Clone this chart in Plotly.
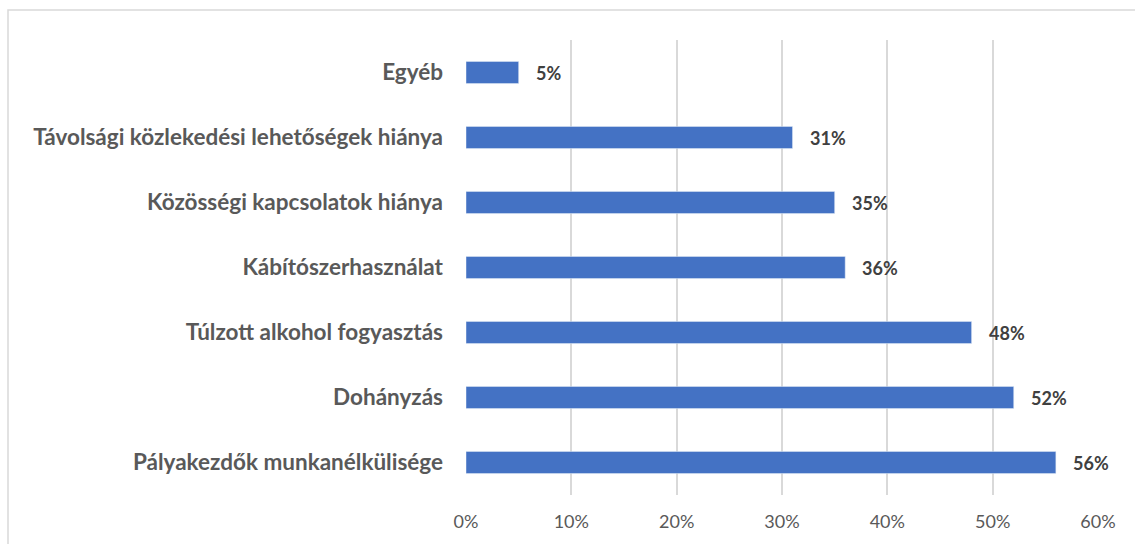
import plotly.graph_objects as go

categories = ["Pályakezdők munkanélkülisége", "Dohányzás", "Túlzott alkohol fogyasztás",
              "Kábítószerhasználat", "Közösségi kapcsolatok hiánya",
              "Távolsági közlekedési lehetőségek hiánya", "Egyéb"]
values = [0.56, 0.52, 0.48, 0.36, 0.35, 0.31, 0.05]
tick_vals = [0, 0.1, 0.2, 0.3, 0.4, 0.5, 0.6]
tick_text = ["0%", "10%", "20%", "30%", "40%", "50%", "60%"]
labels = [f"{round(v*100)}%" for v in values]

FONT = "Lato"
fig = go.Figure()
fig.add_trace(go.Bar(
    y=categories, x=values, orientation="h",
    marker=dict(color="#4472C4"),
    width=0.34, hoverinfo="skip",
))
for c, v, t in zip(categories, values, labels):
    fig.add_annotation(x=v, y=c, text=f"<b>{t}</b>", showarrow=False,
                       xanchor="left", xshift=15,
                       font=dict(family=FONT, size=18, color="#404040"))

L, R, T, B = 466, 37, 40, 49
W, H = 1135, 544
pw, ph = W - L - R, H - T - B
fig.add_shape(type="rect", xref="paper", yref="paper",
              x0=(8 - L) / pw, x1=(W + 5 - L) / pw,
              y0=-(H + 5 - (H - B)) / ph, y1=1 + (T - 10) / ph,
              line=dict(color="#d9d9d9", width=1.5), layer="below")

fig.update_layout(
    width=W, height=H,
    margin=dict(l=L, r=R, t=T, b=B),
    plot_bgcolor="white", paper_bgcolor="white",
    showlegend=False,
    xaxis=dict(range=[0, 0.6], tickvals=tick_vals, ticktext=tick_text,
               showgrid=True, gridcolor="#d9d9d9", gridwidth=1.5,
               zeroline=False, showline=False, ticklabelstandoff=14,
               tickfont=dict(family=FONT, size=18, color="#595959")),
    yaxis=dict(categoryorder="array", categoryarray=categories,
               showgrid=False, zeroline=False, showline=False,
               ticks="", ticklabelstandoff=22,
               tickfont=dict(family=FONT, size=22.5, color="#595959", weight="bold"),
               range=[-0.5, 6.5]),
)
fig.write_html("out.html", config={"displayModeBar": False},
               post_script="document.body.style.margin='0';document.body.style.overflow='hidden';")
